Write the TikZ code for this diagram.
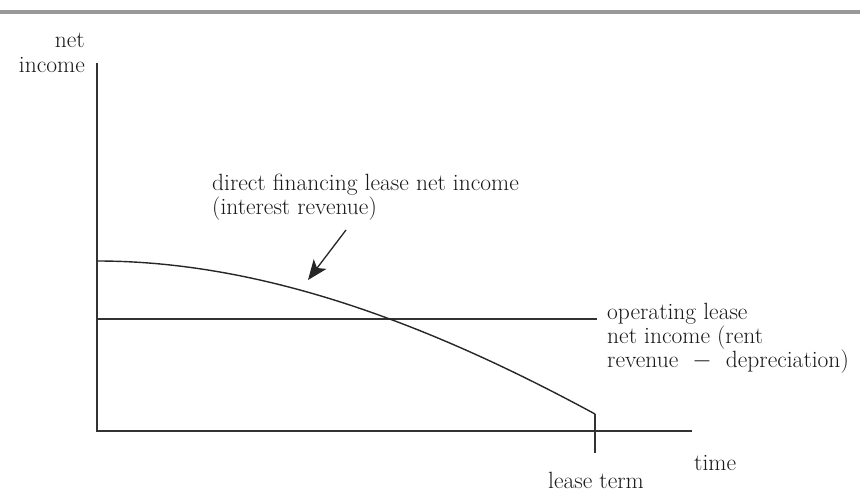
\documentclass[tikz,border=0pt]{standalone}
\usetikzlibrary{arrows.meta}
\begin{document}
\begin{tikzpicture}[x=1pt,y=-1pt,
  lbl/.style={inner sep=0pt, font=\fontsize{23.5}{21.5}\selectfont, text=black!90},
  axisline/.style={line width=1.4pt, draw=black!80},
  curveline/.style={line width=1.4pt, draw=black!85},
  pointer/.style={line width=1.3pt, draw=black!85, -{Stealth[length=20pt,width=16pt,inset=5pt]}}]
\useasboundingbox (0,0) rectangle (860,503);
% top rule
\fill[black!40] (0,10) rectangle (860,14.5);
% axes
\coordinate (ytop) at (97,63);
\coordinate (origin) at (97,431);
\coordinate (xend) at (692,431);
\draw[axisline] (ytop) -- (origin) -- (xend);
% operating lease line
\coordinate (opstart) at (97,319);
\coordinate (opend) at (597,319);
\draw[axisline] (opstart) -- (opend);
% direct financing curve
\coordinate (cstart) at (97,261);
\coordinate (cend) at (595,414);
\coordinate (tickend) at (595,453);
\draw[curveline] (cstart) .. controls (270,261) and (440,330) .. (cend);
\draw[axisline] (cend) -- (tickend);
% labels
\node[lbl, anchor=base east] (yl) at (85,48)
  {\begin{tabular}[t]{@{}r@{}}net\\[3pt]income\end{tabular}};
\node[lbl, anchor=base west] (df) at (212,190)
  {\begin{tabular}[t]{@{}l@{}}direct financing lease net income\\(interest revenue)\end{tabular}};
\node[lbl, anchor=base west] (op) at (607,319)
  {\begin{tabular}[t]{@{}l@{}}operating lease\\net income (rent\\revenue\hspace{0.6em}$-$\hspace{0.6em}depreciation)\end{tabular}};
\node[lbl, anchor=base west] (time) at (694,470) {time};
\node[lbl, anchor=base] (term) at (596,488) {lease term};
% arrow
\coordinate (atail) at (346,230);
\coordinate (ahead) at (308,280);
\draw[pointer] (atail) -- (ahead);
\end{tikzpicture}
\end{document}
